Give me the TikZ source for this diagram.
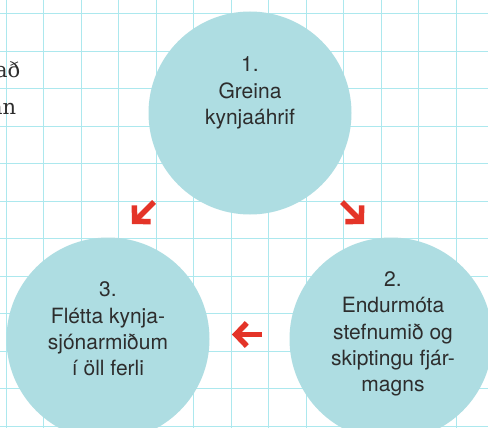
\documentclass[tikz,border=0pt]{standalone}
\usepackage{fontspec}
\setsansfont{TeX Gyre Heros}
\newfontfamily\slabfont{DejaVu Serif}
\usepackage{tikz}
\usetikzlibrary{positioning,arrows.meta}
\definecolor{gridcyan}{RGB}{172,232,238}
\definecolor{stagefill}{RGB}{174,221,226}
\definecolor{arrowred}{RGB}{228,52,40}
\definecolor{inkgray}{RGB}{45,45,45}

\begin{document}
\begin{tikzpicture}[
    x=1pt,
    y=-1pt,
    >={Straight Barb[length=11pt,width=23pt,line width=5.5pt]},
    line width=5.5pt
]

\tikzstyle{stage}=[
    circle,
    fill=stagefill,
    minimum size=203pt,
    inner sep=0pt
]
\tikzstyle{stagetext}=[
    align=center,
    text=inkgray,
    font=\sffamily\fontsize{21}{26.3}\selectfont
]
\tikzstyle{flow}=[->, draw=arrowred]
\tikzstyle{margintext}=[
    anchor=base east,
    inner sep=0pt,
    text=inkgray,
    font=\slabfont\fontsize{21}{26}\selectfont
]

\useasboundingbox (0,0) rectangle (488,428);
\fill[white] (0,0) rectangle (488,428);

% squared paper
\foreach \gx in {6,43.5,...,488}
    \draw[gridcyan, line width=0.6pt] (\gx,0) -- (\gx,428);
\foreach \gy in {13.5,51,...,428}
    \draw[gridcyan, line width=0.6pt] (0,\gy) -- (488,\gy);

\node[margintext] (marginA) at (23,78) {að};
\node[margintext] (marginB) at (19,114) {an};

\node[stage] (one) at (250,113) {};
\node[stage] (two) at (391,339) {};
\node[stage] (three) at (108,339) {};

\node[stagetext] (onetext) at ([yshift=20pt]one.center) {1.\\Greina\\kynjaáhrif};
\node[stagetext] (twotext) at ([xshift=2pt,yshift=5pt]two.center) {2.\\Endurmóta\\stefnumið og\\skiptingu fjár-\\magns};
\node[stagetext] (threetext) at ([yshift=10pt]three.center) {3.\\Flétta kynja-\\sjónarmiðum\\í öll ferli};

\coordinate (oneoutL) at (154,202);
\coordinate (threein) at (132,224);
\coordinate (oneoutR) at (342,202);
\coordinate (twoin) at (364,224);
\coordinate (twoout) at (262,334.5);
\coordinate (threeinR) at (232,334.5);

\draw[flow] (oneoutL) -- (threein);
\draw[flow] (oneoutR) -- (twoin);
\draw[flow] (twoout) -- (threeinR);

\end{tikzpicture}
\end{document}
